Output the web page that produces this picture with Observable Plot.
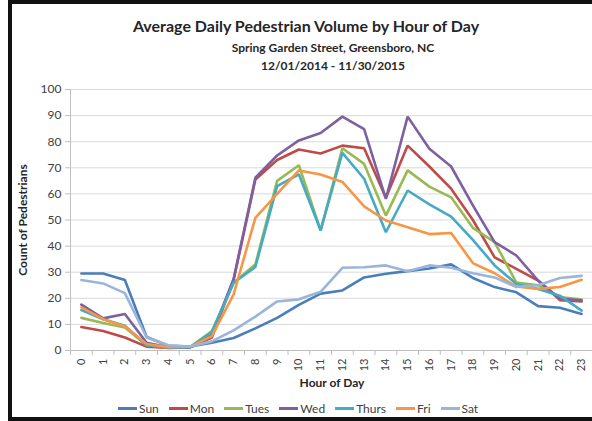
<!DOCTYPE html>
<html><head><meta charset="utf-8">
<script src="https://cdn.jsdelivr.net/npm/d3@7"></script>
<script src="https://cdn.jsdelivr.net/npm/@observablehq/plot@0.6"></script>
<style>
html,body{margin:0;padding:0;background:#fff;}
#wrap{position:relative;width:592px;height:421px;overflow:hidden;font-family:Lato,"Open Sans",sans-serif;color:#262626;}
#chart{position:absolute;left:0;top:0;}
#frame{position:absolute;left:8px;top:0;width:620px;height:413px;border-left:4px solid #111;border-top:4px solid #111;border-bottom:4px solid #111;}
.t{position:absolute;white-space:nowrap;font-weight:bold;transform:translate(-50%,-50%);line-height:1;}
#legend{position:absolute;left:118px;top:401px;display:flex;align-items:center;font-size:12px;color:#404040;}
.item{display:flex;align-items:center;margin-right:10px;}
.sw{width:19px;height:3px;margin-right:2px;}
</style></head>
<body><div id="wrap"><div id="chart"></div><div id="frame"></div>
<div class="t" style="left:306px;top:26px;font-size:16px;color:#262626">Average Daily Pedestrian Volume by Hour of Day</div>
<div class="t" style="left:333px;top:48px;font-size:12px;">Spring Garden Street, Greensboro, NC</div>
<div class="t" style="left:333px;top:66px;font-size:12px;">12/01/2014 - 11/30/2015</div>
<div class="t" style="left:23px;top:220px;font-size:12px;transform:translate(-50%,-50%) rotate(-90deg);">Count of Pedestrians</div>
<div class="t" style="left:332px;top:383px;font-size:12px;">Hour of Day</div>
<div id="legend"></div>
</div>
<script>
const hours = [0,1,2,3,4,5,6,7,8,9,10,11,12,13,14,15,16,17,18,19,20,21,22,23];
const boundaries = [-0.5,0.5,1.5,2.5,3.5,4.5,5.5,6.5,7.5,8.5,9.5,10.5,11.5,12.5,13.5,14.5,15.5,16.5,17.5,18.5,19.5,20.5,21.5,22.5,23.5];
const yTicks = [0,10,20,30,40,50,60,70,80,90,100];
const days = ["Sun","Mon","Tues","Wed","Thurs","Fri","Sat"];
const colors = ["#4A7EBB","#BE4B48","#98B954","#7D60A0","#46AAC5","#F79646","#9AB5DB"];

const sun   = [29.5,29.5,27,5.2,1.8,1.5,3,4.8,8.5,12.5,17.5,21.8,23,28,29.4,30.4,31.4,33,27.8,24.3,22.3,17,16.4,14];
const mon   = [9,7.5,5,1.5,1,1.2,5,27,65.5,73,77,75.5,78.5,77.5,58.5,78.5,70.5,62,50,35.7,31.3,26.8,19.3,18.8];
const tues  = [12.5,10.5,8.8,2,1.2,1.3,7.5,26,33,65,71,46,77.5,71.5,51.7,69,62.8,58.7,47,41.5,26,25,20.5,19.5];
const wed   = [17.6,12.3,14,3,1.2,1.2,6,27.5,66.2,74.7,80.5,83.3,89.6,84.8,58.1,89.6,77.3,70.5,55.6,41.5,36.4,26.8,19.8,19.2];
const thurs = [15.5,12,9.5,2,1.2,1.3,7,26,32,63,67.5,46,75.7,65.8,45.3,61.3,56,51.3,42.4,32.6,25.5,23.6,21,15.3];
const fri   = [16.5,12,9.2,2.5,1.3,1.5,5.5,21.5,50.8,60,69,67.4,64.6,55.2,49.8,47.2,44.6,45,33.5,29.6,24.5,23.6,24.3,27.1];
const sat   = [27,25.7,22,5,2,1.5,3.5,7.7,13,18.8,19.6,22.5,31.7,31.9,32.6,30.4,32.6,31.7,29.6,28,24.3,25,27.8,28.6];

const series = [["Sun",sun],["Mon",mon],["Tues",tues],["Wed",wed],["Thurs",thurs],["Fri",fri],["Sat",sat]];
const rows = series.flatMap(([day, vals]) => vals.map((v, i) => ({hour: hours[i], day, count: v})));

const chart = Plot.plot({
  width: 592, height: 421,
  marginTop: 89, marginBottom: 71, marginLeft: 70, marginRight: 0,
  x: {type: "linear", domain: [-0.5, 23.5]},
  y: {domain: [0, 100]},
  color: {domain: days, range: colors},
  style: {fontFamily: "Lato, 'Open Sans', sans-serif", fontSize: "12px", color: "#404040", background: "transparent"},
  marks: [
    Plot.gridY(yTicks, {stroke: "#d9d9d9", strokeOpacity: 1, strokeWidth: 1}),
    Plot.axisY(yTicks, {tickSize: 5, tickPadding: 4, label: null, stroke: "#bfbfbf", fontSize: 12}),
    Plot.ruleX([-0.5], {stroke: "#bfbfbf"}),
    Plot.ruleY([0], {stroke: "#bfbfbf"}),
    Plot.axisX(boundaries, {tickSize: 5, tickFormat: () => "", label: null, stroke: "#bfbfbf"}),
    Plot.axisX(hours, {tickSize: 0, tickRotate: -90, tickPadding: 8, label: null, fontSize: 11}),
    Plot.lineY(rows, {x: "hour", y: "count", z: "day", stroke: "day", strokeWidth: 2.6, strokeLinejoin: "miter"})
  ]
});
document.getElementById("chart").appendChild(chart);

const legend = document.getElementById("legend");
days.forEach((d, i) => {
  const it = document.createElement("div"); it.className = "item";
  const sw = document.createElement("div"); sw.className = "sw"; sw.style.background = colors[i];
  const tx = document.createElement("span"); tx.textContent = d;
  it.appendChild(sw); it.appendChild(tx); legend.appendChild(it);
});
</script>
</body></html>
